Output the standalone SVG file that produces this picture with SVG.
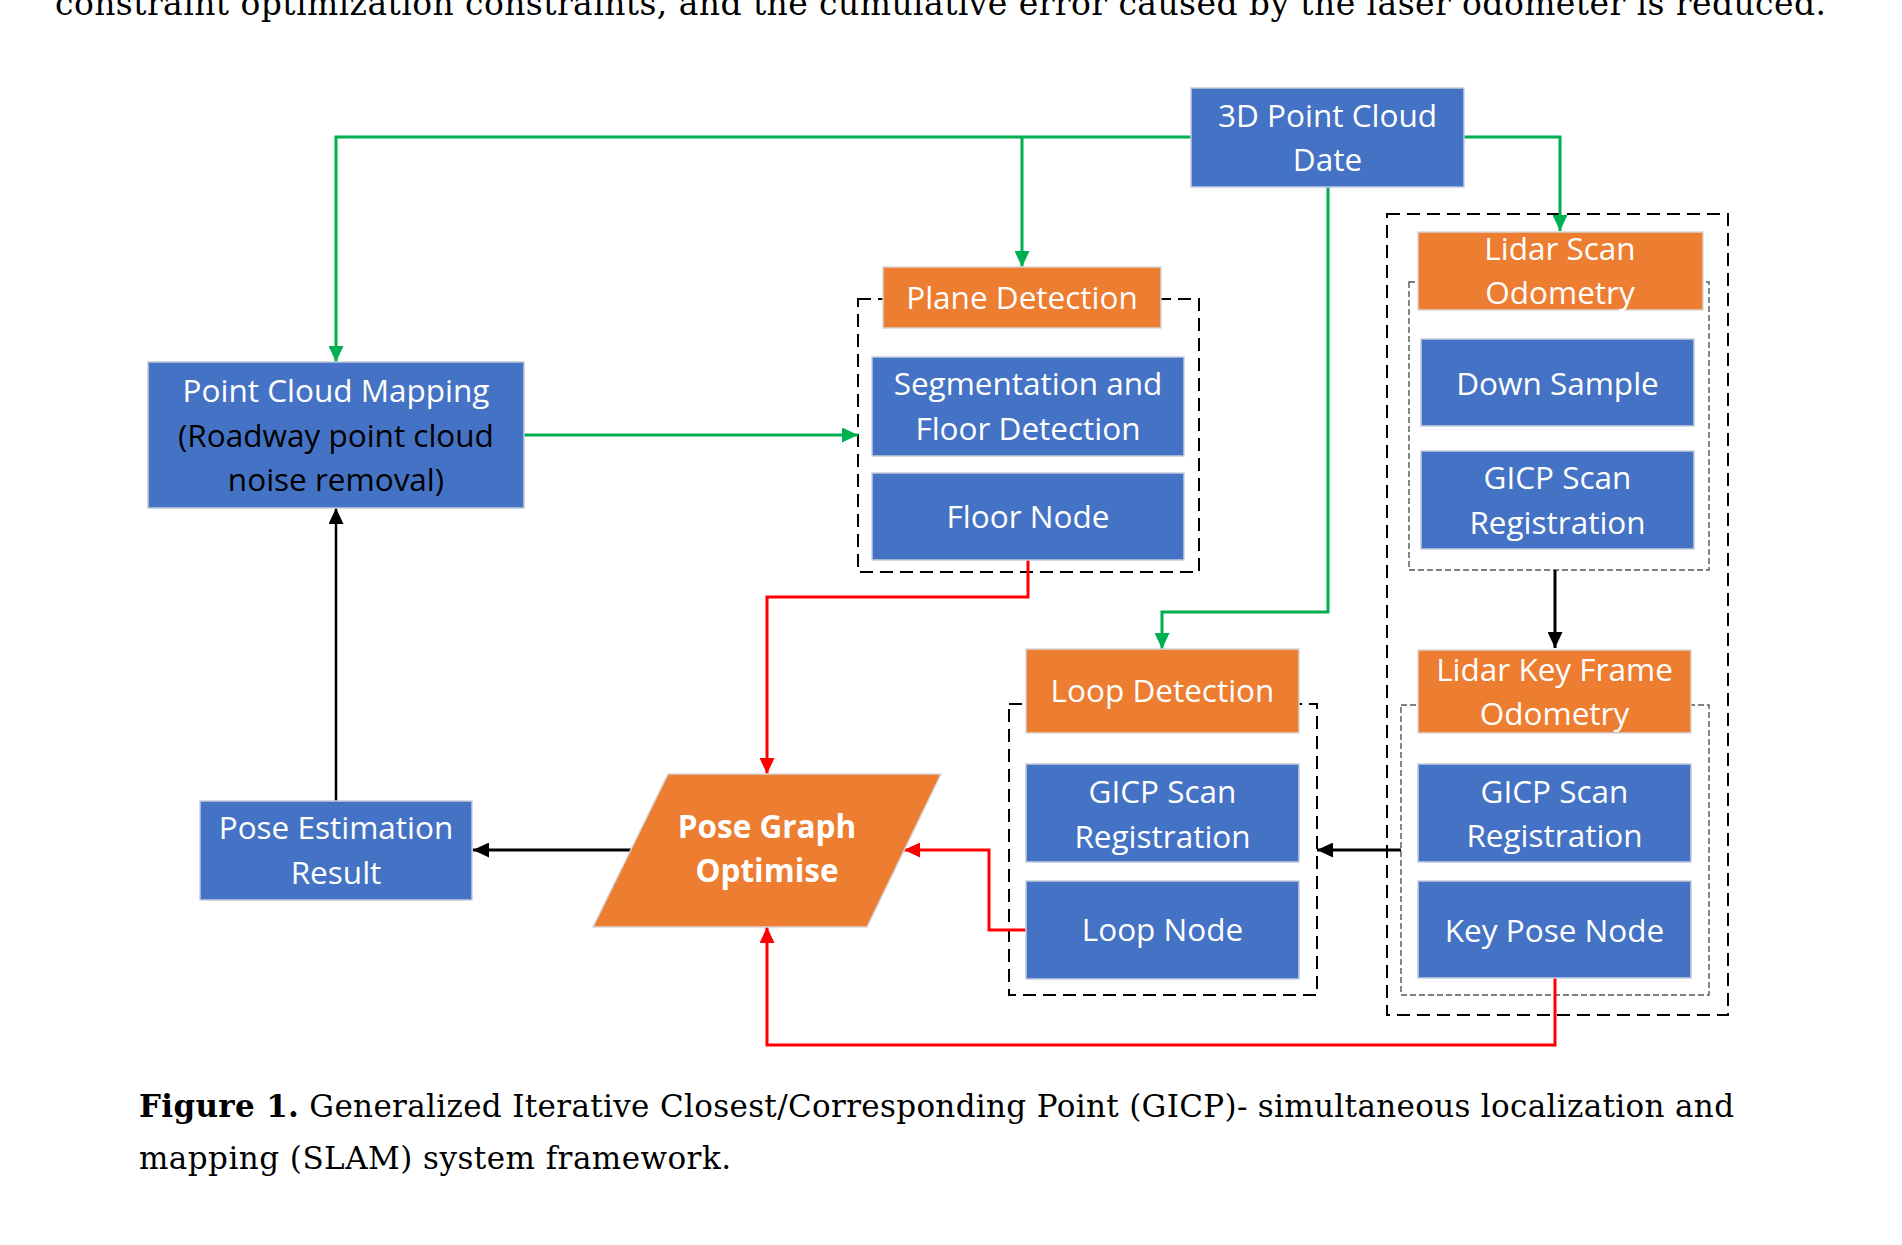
<svg xmlns="http://www.w3.org/2000/svg" width="1902" height="1245" viewBox="0 0 1902 1245">
<style>
.blue{fill:#4472C4;stroke:#c3cbdc;stroke-width:1.5}
.orange{fill:#ED7D31;stroke:#d6d6d6;stroke-width:1.5}
.t{font-family:"Open Sans","Liberation Sans",sans-serif;font-size:31.5px;fill:#ffffff;text-anchor:middle}
.tb{font-weight:bold}
.tk{fill:#000000}
.dash{fill:none;stroke:#000;stroke-width:2;stroke-dasharray:13 7}
.dashin{fill:none;stroke:#555;stroke-width:1.4;stroke-dasharray:6 3}
.g{fill:none;stroke:#00B050;stroke-width:3}
.r{fill:none;stroke:#FF0000;stroke-width:3}
.k{fill:none;stroke:#000;stroke-width:3}
.serif{font-family:"DejaVu Serif","Liberation Serif",serif;font-size:31px;fill:#000}
</style>
<defs>
<marker id="ag" markerUnits="userSpaceOnUse" markerWidth="17" markerHeight="15" refX="16" refY="7.5" orient="auto"><path d="M0,0 L16,7.5 L0,15 z" fill="#00B050"/></marker>
<marker id="ar" markerUnits="userSpaceOnUse" markerWidth="17" markerHeight="15" refX="16" refY="7.5" orient="auto"><path d="M0,0 L16,7.5 L0,15 z" fill="#FF0000"/></marker>
<marker id="ak" markerUnits="userSpaceOnUse" markerWidth="17" markerHeight="15" refX="16" refY="7.5" orient="auto"><path d="M0,0 L16,7.5 L0,15 z" fill="#000"/></marker>
</defs>

<text class="serif" style="font-size:33px" x="55" y="15" textLength="1771" lengthAdjust="spacing">constraint optimization constraints, and the cumulative error caused by the laser odometer is reduced.</text>

<g id="groups">
<rect class="dash" x="858" y="299" width="341" height="273"/>
<rect class="dash" x="1009" y="704" width="308" height="291"/>
<rect class="dash" x="1387" y="214" width="341" height="801"/>
<rect class="dashin" x="1409" y="282" width="300" height="288"/>
<rect class="dashin" x="1401" y="705" width="308" height="290"/>
</g>

<g id="connectors">
<path class="g" d="M1191,137 H336 V362" marker-end="url(#ag)"/>
<path class="g" d="M1022,137 V267" marker-end="url(#ag)"/>
<path class="g" d="M1464,137 H1560 V231" marker-end="url(#ag)"/>
<path class="g" d="M1328,187 V612 H1162 V649" marker-end="url(#ag)"/>
<path class="g" d="M524,435 H858" marker-end="url(#ag)"/>
<path class="k" d="M1555,570 V648" marker-end="url(#ak)"/>
<path class="k" d="M1401,850 H1317" marker-end="url(#ak)"/>
<path class="k" d="M632,850 H473" marker-end="url(#ak)"/>
<path class="k" style="stroke-width:2.5" d="M336,801 V508" marker-end="url(#ak)"/>
<path class="r" d="M1028,560 V597 H767 V774" marker-end="url(#ar)"/>
<path class="r" d="M1026,930 H989 V850 H904" marker-end="url(#ar)"/>
<path class="r" d="M1555,978 V1045 H767 V927" marker-end="url(#ar)"/>
</g>

<g id="n-3d"><rect class="blue" x="1191" y="88" width="273" height="99"/>
<text class="t" x="1327.5" y="127">3D Point Cloud</text><text class="t" x="1327.5" y="171">Date</text></g>

<g id="n-pcm"><rect class="blue" x="148" y="362" width="376" height="146"/>
<text class="t" x="336" y="402">Point Cloud Mapping</text>
<text class="t tk" x="336" y="447">(Roadway point cloud</text>
<text class="t tk" x="336" y="491">noise removal)</text></g>

<g id="n-plane"><rect class="orange" x="883" y="267" width="278" height="61"/>
<text class="t" x="1022" y="309">Plane Detection</text></g>
<g id="n-seg"><rect class="blue" x="872" y="357" width="312" height="99"/>
<text class="t" x="1028" y="395">Segmentation and</text><text class="t" x="1028" y="440">Floor Detection</text></g>
<g id="n-floor"><rect class="blue" x="872" y="473" width="312" height="87"/>
<text class="t" x="1028" y="528">Floor Node</text></g>

<g id="n-lso"><rect class="orange" x="1418" y="232" width="285" height="78"/>
<text class="t" x="1560" y="260">Lidar Scan</text><text class="t" x="1560" y="304">Odometry</text></g>
<g id="n-down"><rect class="blue" x="1421" y="339" width="273" height="87"/>
<text class="t" x="1557.5" y="395">Down Sample</text></g>
<g id="n-gicp1"><rect class="blue" x="1421" y="451" width="273" height="98"/>
<text class="t" x="1557.5" y="489">GICP Scan</text><text class="t" x="1557.5" y="534">Registration</text></g>

<g id="n-lkfo"><rect class="orange" x="1418" y="650" width="273" height="83"/>
<text class="t" x="1554.5" y="681">Lidar Key Frame</text><text class="t" x="1554.5" y="725">Odometry</text></g>
<g id="n-gicp2"><rect class="blue" x="1418" y="764" width="273" height="98"/>
<text class="t" x="1554.5" y="803">GICP Scan</text><text class="t" x="1554.5" y="847">Registration</text></g>
<g id="n-key"><rect class="blue" x="1418" y="881" width="273" height="97"/>
<text class="t" x="1554.5" y="942">Key Pose Node</text></g>

<g id="n-loopdet"><rect class="orange" x="1026" y="649" width="273" height="84"/>
<text class="t" x="1162.5" y="702">Loop Detection</text></g>
<g id="n-gicp3"><rect class="blue" x="1026" y="764" width="273" height="98"/>
<text class="t" x="1162.5" y="803">GICP Scan</text><text class="t" x="1162.5" y="848">Registration</text></g>
<g id="n-loopnode"><rect class="blue" x="1026" y="881" width="273" height="98"/>
<text class="t" x="1162.5" y="941">Loop Node</text></g>

<g id="n-pgo"><polygon class="orange" points="668,774 941,774 867,927 593,927"/>
<text class="t tb" x="767" y="838">Pose Graph</text><text class="t tb" x="767" y="882">Optimise</text></g>

<g id="n-pose"><rect class="blue" x="200" y="801" width="272" height="99"/>
<text class="t" x="336" y="839">Pose Estimation</text><text class="t" x="336" y="884">Result</text></g>

<text class="serif" x="139" y="1117" textLength="1595" lengthAdjust="spacing"><tspan font-weight="bold">Figure 1.</tspan> Generalized Iterative Closest/Corresponding Point (GICP)- simultaneous localization and</text>
<text class="serif" x="139" y="1169" textLength="592" lengthAdjust="spacing">mapping (SLAM) system framework.</text>
</svg>
